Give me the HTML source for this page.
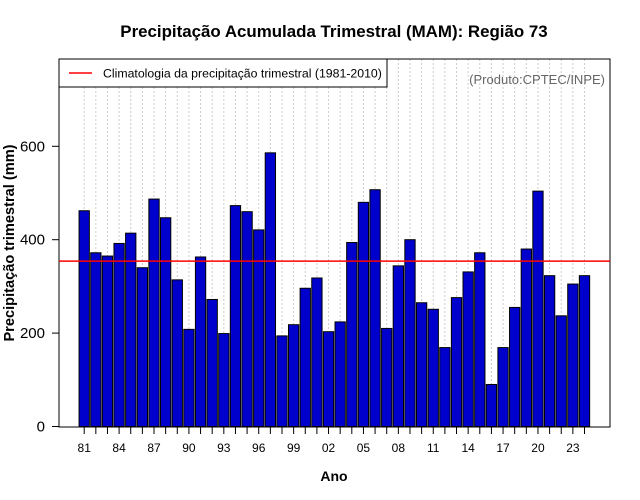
<!DOCTYPE html>
<html><head><meta charset="utf-8"><style>
body{margin:0;background:#fff}
svg{display:block;font-family:"Liberation Sans",sans-serif}
</style></head><body>
<svg id="chart" width="640" height="500">
<text x="334" y="37" text-anchor="middle" font-size="16.9" font-weight="bold">Precipitação Acumulada Trimestral (MAM): Região 73</text>
<g id="grid"></g>
<g id="bars"></g>
<g id="axes"></g>
<rect x="59" y="59" width="551" height="368" fill="none" stroke="#000"/>
<g>
<rect x="59" y="59" width="328" height="28" fill="#fff" stroke="#000"/>
<line x1="69" y1="73" x2="92" y2="73" stroke="#f00" stroke-width="1.5"/>
<text x="103" y="77.5" font-size="12.3">Climatologia da precipitação trimestral (1981-2010)</text>
</g>
<text x="605" y="84" text-anchor="end" font-size="13" fill="#666">(Produto:CPTEC/INPE)</text>
<text x="334" y="481" text-anchor="middle" font-size="14" font-weight="bold">Ano</text>
<text transform="translate(14,243) rotate(-90)" text-anchor="middle" font-size="14.6" font-weight="bold">Precipitação trimestral (mm)</text>
</svg>
<script>
const years=[1981,1982,1983,1984,1985,1986,1987,1988,1989,1990,1991,1992,1993,1994,1995,1996,1997,1998,1999,2000,2001,2002,2003,2004,2005,2006,2007,2008,2009,2010,2011,2012,2013,2014,2015,2016,2017,2018,2019,2020,2021,2022,2023,2024];
const values=[462,372,365,392,414,340,487,447,314,208,363,272,199,473,460,421,586,194,218,296,318,203,224,394,480,507,210,344,400,265,251,169,276,331,372,90,169,255,380,504,323,237,305,323];
const climatology=[354];
const yTicks=[0,200,400,600];
const NS='http://www.w3.org/2000/svg';
const y0=426.5,k=0.467,x0=84.2,dx=11.635,bw=10.3;
const xs=i=>x0+i*dx, ys=v=>y0-v*k;
const svg=document.getElementById('chart');
const grid=document.getElementById('grid'),bars=document.getElementById('bars'),axes=document.getElementById('axes');
function mk(tag,at,p){const e=document.createElementNS(NS,tag);for(const a in at)e.setAttribute(a,at[a]);p.appendChild(e);return e;}
years.forEach((yr,i)=>{
 const g=mk('line',{x1:xs(i),x2:xs(i),y1:59,y2:427,stroke:'#ccc','stroke-dasharray':'2,2','stroke-width':1},grid);
 
 
 const r=mk('rect',{x:xs(i)-bw/2,y:ys(values[i]),width:bw,height:values[i]*k,fill:'#0000cd',stroke:'#000','stroke-width':1},bars);
 
 
 const t=mk('line',{x1:xs(i),x2:xs(i),y1:427,y2:434,stroke:'#000'},axes);
 
 
 if(i%3===0){const l=mk('text',{x:xs(i),y:452,'text-anchor':'middle','font-size':12},axes);l.textContent=String(yr%100).padStart(2,'0');
 
 }
});
const cl=mk('line',{x1:59,x2:610,y1:ys(climatology[0]),y2:ys(climatology[0]),stroke:'#f00','stroke-width':1.5},svg);


yTicks.forEach(v=>{
 const t=mk('line',{x1:52,x2:59,y1:ys(v),y2:ys(v),stroke:'#000'},axes);
 
 
 const l=mk('text',{x:45,y:ys(v)+5,'text-anchor':'end','font-size':15},axes);l.textContent=v;
 
 
});
</script>
</body></html>
